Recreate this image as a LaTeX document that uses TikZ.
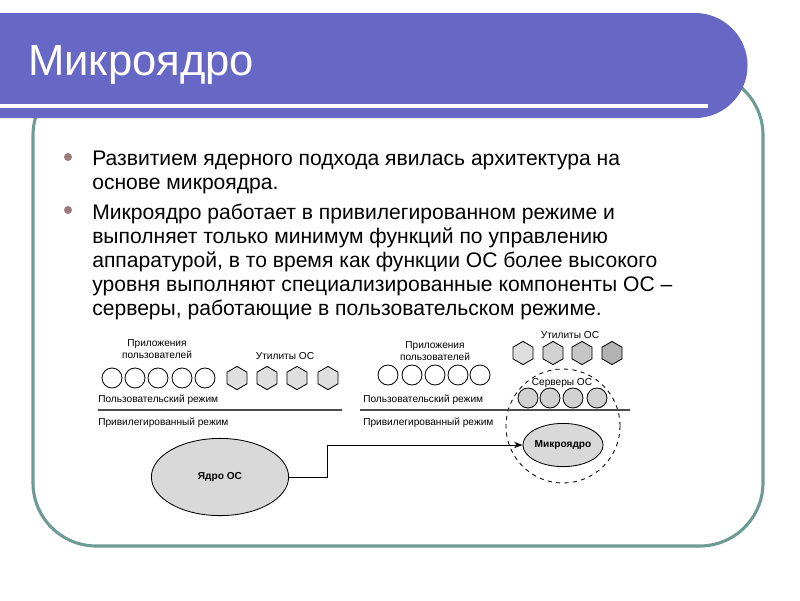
\documentclass[tikz,border=0pt]{standalone}
\usepackage{fontspec}
\setmainfont{Liberation Sans}
\usetikzlibrary{positioning,shapes.geometric,arrows.meta}
\definecolor{titreviolet}{RGB}{103,103,198}
\definecolor{cadreteal}{RGB}{110,155,148}
\definecolor{puce}{RGB}{158,122,122}

\begin{document}
\begin{tikzpicture}[
    x=0.025cm, y=-0.025cm,
    label/.style={
        font=\fontsize{7.2}{8.5}\selectfont,
        align=center,
        inner sep=0pt
    },
    mode/.style={
        font=\fontsize{7.2}{8.5}\selectfont,
        anchor=west,
        inner sep=0pt
    },
    app/.style={draw, circle, minimum size=0.5cm, inner sep=0pt, line width=0.6pt},
    util/.style={
        draw,
        regular polygon,
        regular polygon sides=6,
        shape border rotate=30,
        minimum size=0.58cm,
        inner sep=0pt,
        line width=0.6pt
    },
    server/.style={app, fill=gray!35},
    kernel/.style={
        draw,
        ellipse,
        fill=gray!30,
        inner sep=0pt,
        font=\fontsize{7.2}{8.5}\selectfont\bfseries,
        line width=0.6pt
    },
    border/.style={line width=2pt, black!70},
    edge/.style={-{Stealth[length=6pt]}, line width=0.6pt},
    bullet/.style={circle, fill=puce, minimum size=0.2cm, inner sep=0pt},
    body/.style={
        anchor=north west,
        align=left,
        inner sep=0pt,
        font=\fontsize{15}{17}\selectfont
    }
]
\useasboundingbox[fill=white] (0,0) rectangle (800,600);

% === Cadre et bandeau ===
\draw[cadreteal, line width=2.2pt, rounded corners=45] (33,72) rectangle (763,546);
\fill[titreviolet] (-10,13) -- (695,13) arc[start angle=90, end angle=-90, radius=1.3125cm] -- (-10,118) -- cycle;
\draw[white, line width=2.2pt] (0,106) -- (708,106);
\node[anchor=west, text=white, font=\fontsize{31}{34}\selectfont, inner sep=0pt] (titre) at (28,65) {Микроядро};

% === Texte ===
\node[bullet] (puce1) at (68,157) {};
\node[body] (para1) at (92,151)
{Развитием ядерного подхода явилась архитектура на\\основе микроядра.};
\node[bullet] (puce2) at (68,210) {};
\node[body] (para2) at (92,204)
{Микроядро работает в привилегированном режиме и\\выполняет только минимум функций по управлению\\аппаратурой, в то время как функции ОС более высокого\\уровня выполняют специализированные компоненты ОС --\\серверы, работающие в пользовательском режиме.};

% === Schéma gauche : noyau ===
\node[label] (appsA) at (157,349) {Приложения\\пользователей};
\node[label] (utilsA) at (285,356) {Утилиты ОС};
\node[app] (a1) at (112,378) {};
\node[app] (a2) at (135,378) {};
\node[app] (a3) at (158,378) {};
\node[app] (a4) at (182,378) {};
\node[app] (a5) at (205,378) {};
\node[util, fill=gray!25] (u1) at (237,378) {};
\node[util, fill=gray!25] (u2) at (267,378) {};
\node[util, fill=gray!25] (u3) at (297,378) {};
\node[util, fill=gray!25] (u4) at (328,378) {};
\node[mode] (userA) at (98,400) {Пользовательский режим};
\draw[border] (98,410) -- (342,410);
\node[mode] (privA) at (98,423) {Привилегированный режим};
\node[kernel, minimum width=3.43cm, minimum height=1.93cm] (noyau) at (220,477) {Ядро ОС};

% === Schéma droite : micro-noyau ===
\node[label] (appsB) at (435,351) {Приложения\\пользователей};
\node[label] (utilsB) at (570,335) {Утилиты ОС};
\node[util, fill=gray!25] (v1) at (523,353) {};
\node[util, fill=gray!35] (v2) at (553,353) {};
\node[util, fill=gray!45] (v3) at (582,353) {};
\node[util, fill=gray!60] (v4) at (612,353) {};
\node[app] (b1) at (388,375) {};
\node[app] (b2) at (412,375) {};
\node[app] (b3) at (435,375) {};
\node[app] (b4) at (458,375) {};
\node[app] (b5) at (480,375) {};
\node[draw, dashed, circle, minimum size=2.85cm, line width=0.6pt] (zone) at (563,426) {};
\node[label] (serveurs) at (562,383) {Серверы ОС};
\node[server] (s1) at (528,398) {};
\node[server] (s2) at (550,398) {};
\node[server] (s3) at (573,398) {};
\node[server] (s4) at (597,398) {};
\node[mode] (userB) at (363,400) {Пользовательский режим};
\draw[border] (360,410) -- (630,410);
\node[mode] (privB) at (363,423) {Привилегированный режим};
\node[kernel, minimum width=2cm, minimum height=1.08cm] (micro) at (563,445) {Микроядро};

% === Passage noyau -> micro-noyau ===
\coordinate (coude) at (327,445);
\draw[edge] (noyau.east) -| (coude) -- (micro.west);

\end{tikzpicture}
\end{document}
